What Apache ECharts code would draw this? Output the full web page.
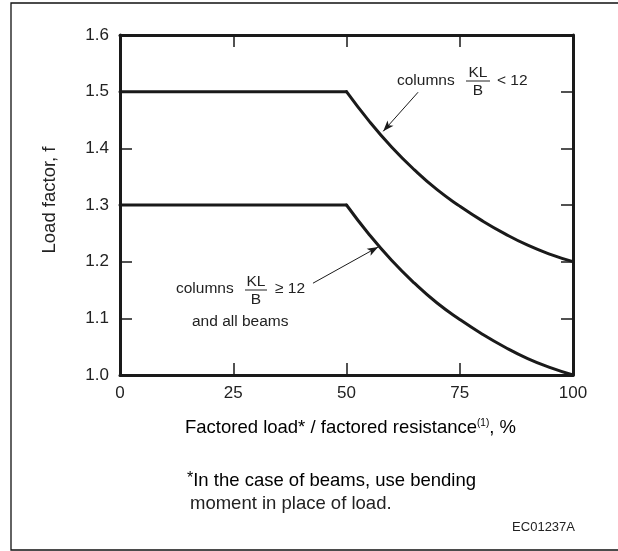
<!DOCTYPE html>
<html>
<head>
<meta charset="utf-8">
<title>Load factor</title>
<script src="https://cdn.jsdelivr.net/npm/echarts@6/dist/echarts.min.js"></script>
<style>
  html, body { margin: 0; padding: 0; background: #fff; }
  #chart { width: 618px; height: 551px; }
</style>
</head>
<body>
<div id="chart"></div>
<script>
// Factored load / factored resistance (%) on x, load factor f on y
const loadFlat = [0, 50];
const loadCurve = [50, 55, 60, 65, 70, 75, 80, 85, 90, 95, 100];

// columns KL/B < 12
const factorShortFlat = [1.5, 1.5];
const factorShortCurve = [1.5, 1.448, 1.402, 1.362, 1.327, 1.298, 1.272, 1.249, 1.229, 1.213, 1.2];

// columns KL/B >= 12 and all beams
const factorLongFlat = [1.3, 1.3];
const factorLongCurve = [1.3, 1.248, 1.202, 1.162, 1.127, 1.098, 1.072, 1.049, 1.029, 1.013, 1.0];

// leader arrows: [start, tip] in data units
const arrowShort = [[65.8, 1.499], [58.1, 1.43]];
const arrowLong = [[42.6, 1.162], [57.0, 1.226]];

const xTicks = { min: 0, max: 100, interval: 25 };
const yTicks = { min: 1.0, max: 1.6, interval: 0.1 };

const FONT = "'Liberation Sans', Arial, Helvetica, sans-serif";
const INK = '#1a1a1a';
const TEXT = '#222';

const pairs = (xs, ys) => xs.map((x, i) => [x, ys[i]]);

const chart = echarts.init(document.getElementById('chart'), null, { renderer: 'canvas' });

function axisX(position, showLabel) {
  return {
    type: 'value', position, min: xTicks.min, max: xTicks.max, interval: xTicks.interval,
    axisLine: { show: true, onZero: false, lineStyle: { color: INK, width: 3 } },
    axisTick: { show: true, inside: true, length: 12, lineStyle: { color: INK, width: 1.5 } },
    axisLabel: { show: showLabel, color: TEXT, fontSize: 17, fontFamily: FONT, margin: 10 },
    splitLine: { show: false }
  };
}
function axisY(position, showLabel) {
  return {
    type: 'value', position, min: yTicks.min, max: yTicks.max, interval: yTicks.interval,
    axisLine: { show: true, onZero: false, lineStyle: { color: INK, width: 3 } },
    axisTick: { show: true, inside: true, length: 12, lineStyle: { color: INK, width: 1.5 } },
    axisLabel: { show: showLabel, color: TEXT, fontSize: 17, fontFamily: FONT, margin: 11,
                 formatter: v => v.toFixed(1) },
    splitLine: { show: false }
  };
}

function curveSeries(xs, ys, smooth, arrow) {
  const s = {
    type: 'line', xAxisIndex: 0, yAxisIndex: 0,
    data: pairs(xs, ys), showSymbol: false, symbol: 'none', silent: true,
    smooth: smooth ? 0.5 : false,
    lineStyle: { color: INK, width: 3, cap: 'round', join: 'round' },
    animation: false
  };
  if (arrow) {
    s.markLine = {
      silent: true, animation: false,
      symbol: ['none', 'arrow'], symbolSize: [6, 11],
      lineStyle: { color: INK, width: 1, type: 'solid' },
      label: { show: false },
      emphasis: { disabled: true },
      data: [[{ coord: arrow[0] }, { coord: arrow[1] }]]
    };
  }
  return s;
}

// fraction KL/B drawn as stacked text with a bar
function fraction(cx, barY, halfW) {
  return [
    { type: 'text', style: { text: 'KL', x: cx, y: barY - 8, align: 'center', verticalAlign: 'middle',
        font: `15.5px ${FONT}`, fill: TEXT } },
    { type: 'line', shape: { x1: cx - halfW, y1: barY, x2: cx + halfW, y2: barY },
      style: { stroke: TEXT, lineWidth: 1 } },
    { type: 'text', style: { text: 'B', x: cx, y: barY + 10, align: 'center', verticalAlign: 'middle',
        font: `15.5px ${FONT}`, fill: TEXT } }
  ];
}

const graphics = [
  { type: 'rect', z: -10, shape: { x: 11, y: 3, width: 700, height: 547 },
    style: { fill: 'none', stroke: '#111', lineWidth: 1.3 } },
  { type: 'text', rotation: Math.PI / 2, x: 50, y: 200,
    style: { text: 'Load factor, f', align: 'center', verticalAlign: 'middle',
             font: `18.5px ${FONT}`, fill: TEXT } },
  { type: 'text', style: {
      text: '{a|Factored load* / factored resistance}{s|(1)}{a|, %}',
      x: 185, y: 428, align: 'left', verticalAlign: 'middle',
      rich: {
        a: { fontSize: 18.5, fontFamily: FONT, color: TEXT, lineHeight: 20 },
        s: { fontSize: 10, fontFamily: FONT, color: TEXT, verticalAlign: 'top', lineHeight: 12 }
      } } },
  { type: 'text', style: {
      text: '{s|*}{a|In the case of beams, use bending}',
      x: 187, y: 481, align: 'left', verticalAlign: 'middle',
      rich: {
        a: { fontSize: 18.5, fontFamily: FONT, color: TEXT, lineHeight: 20 },
        s: { fontSize: 16, fontFamily: FONT, color: TEXT, verticalAlign: 'top', lineHeight: 16 }
      } } },
  { type: 'text', style: { text: 'moment in place of load.', x: 190, y: 504,
      align: 'left', verticalAlign: 'middle', font: `18.5px ${FONT}`, fill: TEXT } },
  { type: 'text', style: { text: 'EC01237A', x: 575, y: 527,
      align: 'right', verticalAlign: 'middle', font: `13px ${FONT}`, fill: TEXT } },

  // columns KL/B < 12
  { type: 'text', style: { text: 'columns', x: 397, y: 81, align: 'left', verticalAlign: 'middle',
      font: `15.5px ${FONT}`, fill: TEXT } },
  ...fraction(478, 81, 12),
  { type: 'text', style: { text: '< 12', x: 497, y: 81, align: 'left', verticalAlign: 'middle',
      font: `15.5px ${FONT}`, fill: TEXT } },

  // columns KL/B >= 12 and all beams
  { type: 'text', style: { text: 'columns', x: 176, y: 289, align: 'left', verticalAlign: 'middle',
      font: `15.5px ${FONT}`, fill: TEXT } },
  ...fraction(256, 290, 11),
  { type: 'text', style: { text: '\u2265 12', x: 275, y: 289, align: 'left', verticalAlign: 'middle',
      font: `15.5px ${FONT}`, fill: TEXT } },
  { type: 'text', style: { text: 'and all beams', x: 192, y: 322, align: 'left', verticalAlign: 'middle',
      font: `15.5px ${FONT}`, fill: TEXT } }
];

chart.setOption({
  animation: false,
  backgroundColor: '#fff',
  grid: { left: 120, right: 45, top: 35, bottom: 176, containLabel: false },
  xAxis: [axisX('bottom', true), axisX('top', false)],
  yAxis: [axisY('left', true), axisY('right', false)],
  series: [
    curveSeries(loadFlat, factorShortFlat, false, null),
    curveSeries(loadCurve, factorShortCurve, true, arrowShort),
    curveSeries(loadFlat, factorLongFlat, false, null),
    curveSeries(loadCurve, factorLongCurve, true, arrowLong)
  ],
  graphic: graphics
});
</script>
</body>
</html>
